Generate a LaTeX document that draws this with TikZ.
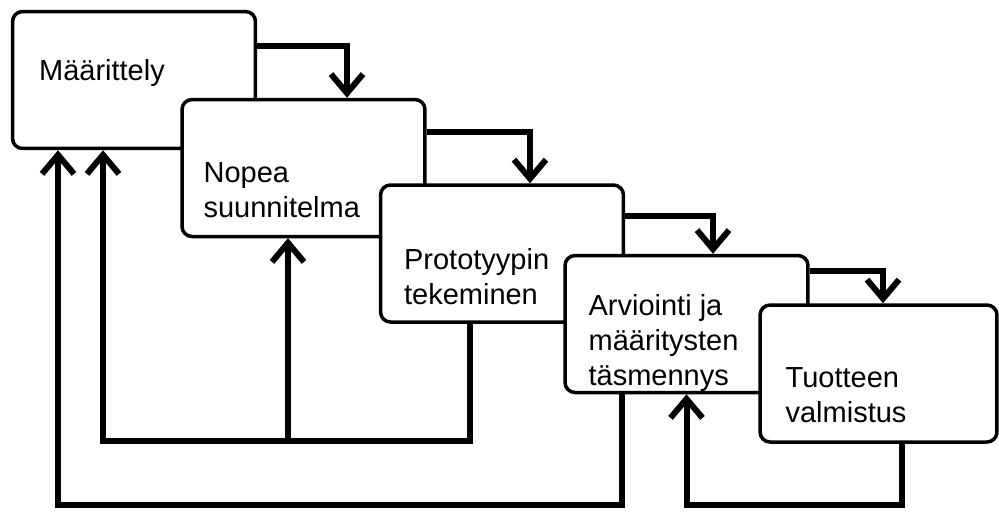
\documentclass[tikz,border=0pt]{standalone}
\usepackage{fontspec}
\setmainfont{Liberation Sans}
\usetikzlibrary{arrows.meta}
\tikzset{
  phase/.style={draw, fill=white, rounded corners=0.2cm, line width=0.07cm,
    minimum width=4.86cm, minimum height=2.74cm},
  phasetext/.style={anchor=west, align=left, inner sep=0pt,
    font=\fontsize{16.5}{20}\selectfont},
  flow/.style={line width=0.12cm, -{Straight Barb[length=0.38cm, width=0.64cm]}},
}
\begin{document}
\begin{tikzpicture}[x=0.02cm, y=-0.02cm]
    \useasboundingbox (0,0) rectangle (999,512);
    % phases, later ones drawn over earlier ones
    \node[phase] (b1) at (134,80) {};
    \node[phase] (b2) at (303.5,168) {};
    \node[phase] (b3) at (502,253.5) {};
    \node[phase] (b4) at (686.5,324) {};
    \node[phase, minimum width=4.74cm] (b5) at (878.5,373.5) {};
    \node[phasetext] (t1) at ([xshift=0.56cm, yshift=0.14cm]b1.west) {Määrittely};
    \node[phasetext] (t2) at ([xshift=0.46cm, yshift=-0.44cm]b2.west) {Nopea\\suunnitelma};
    \node[phasetext] (t3) at ([xshift=0.5cm, yshift=-0.46cm]b3.west) {Prototyypin\\tekeminen};
    \node[phasetext] (t4) at ([xshift=0.5cm, yshift=-0.38cm]b4.west) {Arviointi ja\\määritysten\\täsmennys};
    \node[phasetext] (t5) at ([xshift=0.54cm, yshift=-0.44cm]b5.west) {Tuotteen\\valmistus};

    % forward steps
    \coordinate (s1) at ([yshift=-0.72cm]b1.north east); \coordinate (e1) at ([xshift=0.87cm]b2.north);
    \coordinate (s2) at ([yshift=-0.68cm]b2.north east); \coordinate (e2) at ([xshift=0.56cm]b3.north);
    \coordinate (s3) at ([yshift=-0.66cm]b3.north east); \coordinate (e3) at ([xshift=0.53cm]b4.north);
    \coordinate (s4) at ([yshift=-0.34cm]b4.north east); \coordinate (e4) at ([xshift=0.09cm]b5.north);
    \draw[flow] (s1) -| (e1);
    \draw[flow] (s2) -| (e2);
    \draw[flow] (s3) -| (e3);
    \draw[flow] (s4) -| (e4);

    % feedback loops
    \coordinate (low1) at (0,441);
    \coordinate (low2) at (0,505);
    \coordinate (p3) at ([xshift=-0.64cm]b3.south);
    \coordinate (q1) at ([xshift=-0.62cm]b1.south);
    \coordinate (q2) at ([xshift=-0.31cm]b2.south);
    \draw[flow] (p3) -- (p3 |- low1) -| (q1);
    \draw[flow] (q2 |- low1) -- (q2);
    \coordinate (p4) at ([xshift=-1.29cm]b4.south);
    \coordinate (r1) at ([xshift=-1.52cm]b1.south);
    \draw[flow] (p4) -- (p4 |- low2) -| (r1);
    \coordinate (p5) at ([xshift=0.47cm]b5.south);
    \draw[flow] (p5) -- (p5 |- low2) -| (b4.south);
\end{tikzpicture}
\end{document}
